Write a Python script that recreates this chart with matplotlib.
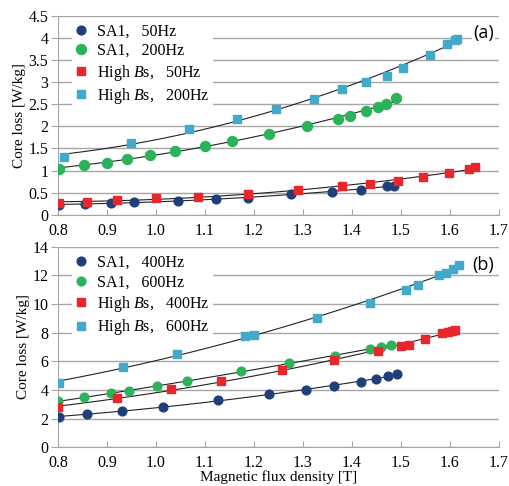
import numpy as np
import matplotlib
matplotlib.use("Agg")
import matplotlib.pyplot as plt

plt.rcParams["font.family"] = ["Liberation Serif", "DejaVu Serif"]
plt.rcParams["mathtext.fontset"] = "custom"
plt.rcParams["mathtext.rm"] = "Liberation Serif"
plt.rcParams["mathtext.it"] = "Liberation Serif:italic"

# ---- panel (a): 50 Hz / 200 Hz ----
sa1_50_x = [0.803, 0.856, 0.908, 0.956, 1.044, 1.122, 1.188, 1.275, 1.359, 1.419, 1.471, 1.486]
sa1_50_y = [0.22, 0.25, 0.27, 0.28, 0.32, 0.35, 0.39, 0.46, 0.52, 0.57, 0.65, 0.66]
sa1_200_x = [0.802, 0.854, 0.900, 0.940, 0.988, 1.039, 1.100, 1.156, 1.230, 1.308,
             1.372, 1.397, 1.428, 1.454, 1.470, 1.491]
sa1_200_y = [1.03, 1.13, 1.18, 1.27, 1.36, 1.45, 1.55, 1.66, 1.83, 2.00,
             2.17, 2.24, 2.34, 2.44, 2.51, 2.63]
hbs_50_x = [0.802, 0.859, 0.920, 1.000, 1.085, 1.188, 1.289, 1.380, 1.436, 1.495,
            1.546, 1.599, 1.640, 1.651]
hbs_50_y = [0.27, 0.30, 0.33, 0.37, 0.41, 0.48, 0.57, 0.64, 0.70, 0.77,
            0.86, 0.95, 1.04, 1.07]
hbs_200_x = [0.812, 0.950, 1.068, 1.166, 1.245, 1.322, 1.380, 1.428, 1.471, 1.505,
             1.559, 1.595, 1.610, 1.614]
hbs_200_y = [1.30, 1.63, 1.93, 2.17, 2.40, 2.62, 2.83, 3.00, 3.14, 3.32,
             3.60, 3.86, 3.95, 3.98]

# ---- panel (b): 400 Hz / 600 Hz ----
sa1_400_x = [0.801, 0.860, 0.931, 1.015, 1.127, 1.231, 1.306, 1.364, 1.418, 1.450, 1.474, 1.492]
sa1_400_y = [2.12, 2.32, 2.50, 2.83, 3.27, 3.71, 3.99, 4.29, 4.57, 4.78, 4.95, 5.09]
sa1_600_x = [0.800, 0.853, 0.909, 0.944, 1.002, 1.063, 1.174, 1.271, 1.366, 1.437, 1.460, 1.480]
sa1_600_y = [3.22, 3.48, 3.76, 3.92, 4.27, 4.62, 5.30, 5.86, 6.40, 6.88, 7.03, 7.14]
hbs_400_x = [0.800, 0.921, 1.031, 1.133, 1.258, 1.363, 1.454, 1.500, 1.516, 1.550,
             1.584, 1.596, 1.604, 1.611]
hbs_400_y = [2.78, 3.43, 4.06, 4.62, 5.41, 6.07, 6.72, 7.07, 7.16, 7.58,
             7.98, 8.05, 8.12, 8.21]
hbs_600_x = [0.801, 0.933, 1.043, 1.182, 1.200, 1.329, 1.437, 1.511, 1.536, 1.578,
             1.593, 1.606, 1.618]
hbs_600_y = [4.48, 5.60, 6.53, 7.77, 7.84, 9.05, 10.10, 10.99, 11.36, 12.02,
             12.18, 12.46, 12.74]

NAVY = "#1f3f7a"; GREEN = "#2cb35a"; RED = "#e8262b"; AQUA = "#41a9c9"

series_a = [
    (sa1_50_x, sa1_50_y, "o", NAVY, 6.3, "SA1,   50Hz"),
    (sa1_200_x, sa1_200_y, "o", GREEN, 7.2, "SA1,   200Hz"),
    (hbs_50_x, hbs_50_y, "s", RED, 6.3, r"High $\mathit{B}$s,   50Hz"),
    (hbs_200_x, hbs_200_y, "s", AQUA, 6.3, r"High $\mathit{B}$s,   200Hz"),
]
series_b = [
    (sa1_400_x, sa1_400_y, "o", NAVY, 6.3, "SA1,   400Hz"),
    (sa1_600_x, sa1_600_y, "o", GREEN, 6.3, "SA1,   600Hz"),
    (hbs_400_x, hbs_400_y, "s", RED, 6.3, r"High $\mathit{B}$s,   400Hz"),
    (hbs_600_x, hbs_600_y, "s", AQUA, 6.3, r"High $\mathit{B}$s,   600Hz"),
]

fig = plt.figure(figsize=(5.09, 4.86), dpi=100)
ax_a = fig.add_axes([0.114, 0.558, 0.866, 0.410])
ax_b = fig.add_axes([0.114, 0.080, 0.866, 0.412])


def draw(ax, series, ymax, ystep, tag):
    handles = []
    for xs, ys, mk, col, ms, lab in series:
        xs = np.array(xs); ys = np.array(ys)
        # quadratic trendline as in the spreadsheet chart
        c = np.polyfit(xs, ys, 2)
        xx = np.linspace(xs.min(), xs.max(), 100)
        ax.plot(xx, np.polyval(c, xx), color="#222222", lw=0.8, zorder=3)
        h, = ax.plot(xs, ys, ls="", marker=mk, ms=ms, color=col, mec=col,
                     zorder=4, label=lab)
        handles.append(h)
    ax.set_xlim(0.8, 1.7)
    ax.set_ylim(0, ymax)
    ax.set_xticks(np.round(np.arange(0.8, 1.71, 0.1), 1))
    ax.set_xticklabels([f"{v:.1f}" for v in np.arange(0.8, 1.71, 0.1)])
    yt = np.arange(0, ymax + 1e-9, ystep)
    ax.set_yticks(yt)
    ax.set_yticklabels([f"{v:g}" for v in yt])
    ax.yaxis.grid(True, color="#a6a6a6", lw=1.0, zorder=0)
    ax.set_axisbelow(True)
    for s in ("top", "right"):
        ax.spines[s].set_visible(False)
    for s in ("left", "bottom"):
        ax.spines[s].set_color("#a6a6a6")
    ax.tick_params(axis="x", direction="in", length=4, color="#a6a6a6",
                   labelsize=11.5, pad=6)
    ax.tick_params(axis="y", direction="out", length=5, color="#a6a6a6",
                   labelsize=11.5, pad=2)
    ax.set_ylabel("Core loss [W/kg]", fontsize=11, labelpad=2)
    leg = ax.legend(handles=handles, loc="upper left", frameon=True,
                    fontsize=11.5, handlelength=0.8, handletextpad=0.6,
                    borderaxespad=0.3, labelspacing=0.22, borderpad=0.2,
                    bbox_to_anchor=(0.02, 1.0))
    leg.get_frame().set_edgecolor("none")
    leg.get_frame().set_facecolor("white")
    leg.get_frame().set_alpha(1.0)
    ax.text(0.965, 0.91, tag, transform=ax.transAxes, ha="center", va="center",
            fontsize=13, family=["Open Sans", "DejaVu Sans"],
            bbox=dict(facecolor="white", edgecolor="none", pad=1))


draw(ax_a, series_a, 4.5, 0.5, "(a)")
draw(ax_b, series_b, 14, 2, "(b)")
ax_b.set_xlabel("Magnetic flux density [T]", fontsize=11, labelpad=-1)

fig.savefig("out.png", dpi=100)
